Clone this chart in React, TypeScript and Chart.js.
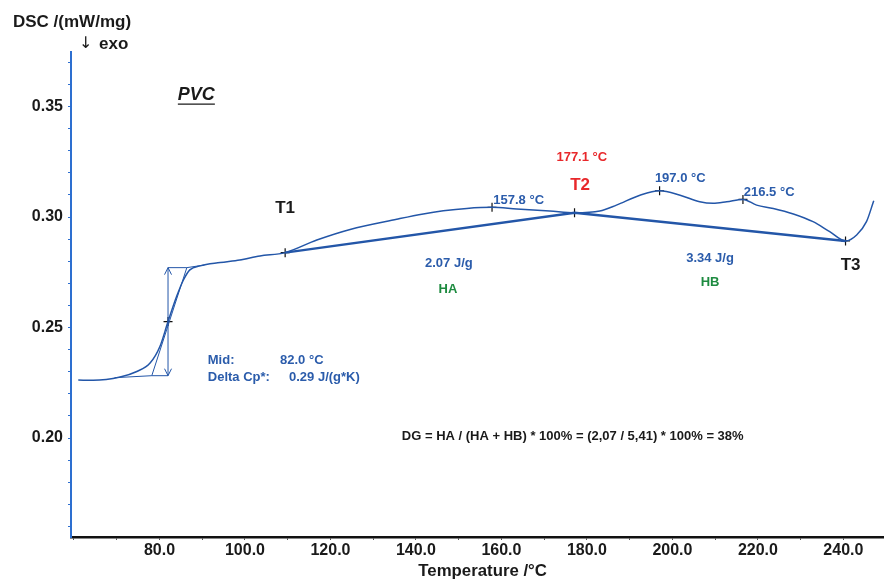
import React, { useEffect, useRef } from "react";
import { Chart, registerables } from "chart.js";

Chart.register(...registerables);

// Main DSC curve (temperature °C, DSC mW/mg)
const curveT = [61.0, 64.5, 70.8, 74.7, 77.8, 80.1, 82.0, 84.0, 85.6, 87.1, 89.5, 94.2, 98.8, 103.5, 109.4, 116.8, 124.6, 135.5, 141.7, 146.4, 151.9, 157.8, 163.6, 171.3, 177.1, 183.0, 186.9, 192.4, 197.0, 201.8, 206.4, 209.5, 212.7, 216.5, 219.7, 223.6, 228.3, 232.9, 236.8, 240.5, 243.1, 245.4, 247.1];
const curveDSC = [0.2262, 0.2261, 0.2276, 0.2301, 0.2339, 0.2414, 0.2527, 0.2640, 0.2715, 0.2761, 0.2779, 0.2794, 0.2806, 0.2824, 0.2839, 0.2896, 0.2944, 0.2990, 0.3014, 0.3028, 0.3039, 0.3044, 0.3036, 0.3027, 0.3019, 0.3027, 0.3054, 0.3099, 0.3119, 0.3099, 0.3069, 0.3062, 0.3069, 0.3080, 0.3054, 0.3039, 0.3014, 0.2979, 0.2934, 0.2892, 0.2919, 0.2979, 0.3074];

// Integration baseline T1 - T2 - T3
const baseT = [109.4, 177.1, 240.5];
const baseDSC = [0.2839, 0.3019, 0.2892];

// Glass transition construction
const tangentT = [78.2, 86.4];
const tangentDSC = [0.2282, 0.2771];
const topStepT = [82.0, 86.4, 90.5];
const topStepDSC = [0.2771, 0.2771, 0.2783];
const lowStepT = [69.5, 78.2, 82.0];
const lowStepDSC = [0.2273, 0.2282, 0.2282];
const arrowT = [82.0, 82.0];
const arrowDSC = [0.2282, 0.2771];

// Marked points (+)
const markT = [82.0, 109.4, 157.8, 177.1, 197.0, 216.5, 240.5];
const markDSC = [0.2527, 0.2839, 0.3044, 0.3019, 0.3119, 0.3080, 0.2892];

// Axis ticks
const xTicks = [60, 70, 80, 90, 100, 110, 120, 130, 140, 150, 160, 170, 180, 190, 200, 210, 220, 230, 240];
const xLabelTicks = [80, 100, 120, 140, 160, 180, 200, 220, 240];
const yTicks = [0.16, 0.17, 0.18, 0.19, 0.2, 0.21, 0.22, 0.23, 0.24, 0.25, 0.26, 0.27, 0.28, 0.29, 0.3, 0.31, 0.32, 0.33, 0.34, 0.35, 0.36, 0.37];
const yLabelTicks = [0.2, 0.25, 0.3, 0.35];

const BLUE = "#2356a8";
const TXT_BLUE = "#2b5cab";
const RED = "#e8282b";
const GREEN = "#1e8b40";
const BLACK = "#1a1a1a";

// Annotations anchored in data coordinates
const labelTexts = ["PVC", "T1", "157.8 °C", "177.1 °C", "T2", "197.0 °C", "216.5 °C", "T3", "2.07 J/g", "HA", "3.34 J/g", "HB", "Mid:", "82.0 °C", "Delta Cp*:", "0.29 J/(g*K)", "DG = HA / (HA + HB) * 100% = (2,07 / 5,41) * 100% = 38%"];
const labelT = [84.3, 109.4, 158.1, 178.8, 178.4, 195.9, 216.7, 241.7, 147.7, 147.5, 208.8, 208.8, 91.3, 108.2, 91.3, 110.3, 136.7];
const labelDSC = [0.3552, 0.3041, 0.3077, 0.3271, 0.3145, 0.3176, 0.3113, 0.2780, 0.2792, 0.2674, 0.2814, 0.2706, 0.2353, 0.2353, 0.2276, 0.2276, 0.2005];
const labelColor = [BLACK, BLACK, TXT_BLUE, RED, RED, TXT_BLUE, TXT_BLUE, BLACK, TXT_BLUE, GREEN, TXT_BLUE, GREEN, TXT_BLUE, TXT_BLUE, TXT_BLUE, TXT_BLUE, BLACK];
const labelSize = [18, 17, 13, 13, 17, 13, 13, 17, 13, 13, 13, 13, 13, 13, 13, 13, 13];
const labelAlign = ["left", "center", "left", "center", "center", "left", "left", "center", "center", "center", "center", "center", "left", "left", "left", "left", "left"];

const X_TITLE = "Temperature /°C";
const FONT = '"Liberation Sans", Arial, Helvetica, sans-serif';

function pts(xs: number[], ys: number[]) {
  return xs.map((x, i) => ({ x, y: ys[i] }));
}

const annotPlugin = {
  id: "annot",
  afterDatasetsDraw(chart: any) {
    const { ctx, scales } = chart;
    const x = scales.x;
    const y = scales.y;
    ctx.save();
    // arrow heads on the Delta Cp step
    const meta = chart.getDatasetMeta(5);
    if (meta && meta.data.length === 2) {
      const a = meta.data[0];
      const b = meta.data[1];
      const bottom = Math.max(a.y, b.y);
      const top = Math.min(a.y, b.y);
      ctx.strokeStyle = BLUE;
      ctx.lineWidth = 1;
      ctx.beginPath();
      ctx.moveTo(a.x - 3.5, top + 7);
      ctx.lineTo(a.x, top);
      ctx.lineTo(a.x + 3.5, top + 7);
      ctx.moveTo(a.x - 3.5, bottom - 7);
      ctx.lineTo(a.x, bottom);
      ctx.lineTo(a.x + 3.5, bottom - 7);
      ctx.stroke();
    }
    ctx.textBaseline = "middle";
    labelTexts.forEach((t, i) => {
      const px = x.getPixelForValue(labelT[i]);
      const py = y.getPixelForValue(labelDSC[i]);
      const italic = i === 0 ? "italic " : "";
      ctx.font = `${italic}bold ${labelSize[i]}px ${FONT}`;
      ctx.fillStyle = labelColor[i];
      ctx.textAlign = labelAlign[i] as CanvasTextAlign;
      ctx.fillText(t, px, py);
      if (i === 0) {
        const w = ctx.measureText(t).width;
        ctx.strokeStyle = labelColor[i];
        ctx.lineWidth = 1.3;
        ctx.beginPath();
        ctx.moveTo(px, py + 9);
        ctx.lineTo(px + w, py + 9);
        ctx.stroke();
      }
    });
    // axis captions
    ctx.fillStyle = BLACK;
    ctx.textAlign = "center";
    ctx.font = `bold 16.8px ${FONT}`;
    ctx.fillText(X_TITLE, x.getPixelForValue(155.6), 571);
    ctx.textAlign = "left";
    ctx.font = `bold 17px ${FONT}`;
    ctx.fillText("DSC /(mW/mg)", 13, 22);
    ctx.fillText("exo", 99, 44);
    ctx.font = `16px "DejaVu Sans", sans-serif`;
    ctx.fillText("↓", 79, 44);
    ctx.restore();
  },
};

export default function App() {
  const ref = useRef<HTMLCanvasElement | null>(null);
  useEffect(() => {
    if (!ref.current) return;
    const line = (data: any, color: string, width: number, extra: any = {}) => ({
      data,
      showLine: true,
      borderColor: color,
      borderWidth: width,
      pointRadius: 0,
      pointHoverRadius: 0,
      fill: false,
      ...extra,
    });
    const chart = new Chart(ref.current, {
      type: "scatter",
      data: {
        datasets: [
          line(pts(curveT, curveDSC), BLUE, 1.5, { cubicInterpolationMode: "monotone" }),
          line(pts(baseT, baseDSC), BLUE, 2.5),
          line(pts(tangentT, tangentDSC), BLUE, 1),
          line(pts(topStepT, topStepDSC), BLUE, 1),
          line(pts(lowStepT, lowStepDSC), BLUE, 1),
          line(pts(arrowT, arrowDSC), BLUE, 1),
          {
            data: pts(markT, markDSC),
            showLine: false,
            pointStyle: "cross",
            pointRadius: 4.5,
            pointHoverRadius: 4.5,
            borderColor: "#111",
            borderWidth: 1.2,
            backgroundColor: "#111",
          },
        ],
      },
      options: {
        animation: false,
        responsive: false,
        layout: { autoPadding: false, padding: { top: 52, right: 0, left: 0, bottom: 0 } },
        plugins: { legend: { display: false }, tooltip: { enabled: false } },
        scales: {
          x: {
            type: "linear",
            min: 59.3,
            max: 249.5,
            afterBuildTicks: (s: any) => {
              s.ticks = xTicks.map((v) => ({ value: v }));
            },
            afterFit: (s: any) => {
              s.height = 44;
              s.paddingLeft = 0;
              s.paddingRight = 0;
            },
            ticks: {
              autoSkip: false,
              maxRotation: 0,
              padding: 1,
              color: BLACK,
              font: { size: 16, weight: "bold", family: FONT },
              callback: (v: any) => (xLabelTicks.includes(Number(v)) ? Number(v).toFixed(1) : ""),
            },
            grid: { drawOnChartArea: false, tickLength: 3, color: "#555" },
            border: { color: "#111", width: 2.5 },
            title: { display: false },
          },
          y: {
            type: "linear",
            min: 0.1552,
            max: 0.3747,
            afterBuildTicks: (s: any) => {
              s.ticks = yTicks.map((v) => ({ value: v }));
            },
            afterFit: (s: any) => {
              s.width = 71;
              s.paddingTop = 0;
              s.paddingBottom = 0;
            },
            ticks: {
              autoSkip: false,
              padding: 5,
              color: BLACK,
              font: { size: 16, weight: "bold", family: FONT },
              callback: (v: any) =>
                yLabelTicks.some((t) => Math.abs(t - Number(v)) < 1e-6) ? Number(v).toFixed(2) : "",
            },
            grid: { drawOnChartArea: false, tickLength: 3, color: "#2d6fd0" },
            border: { color: "#2d6fd0", width: 2 },
          },
        },
      },
      plugins: [annotPlugin],
    } as any);
    return () => chart.destroy();
  }, []);
  return (
    <div style={{ position: "fixed", left: 0, top: 0, width: 884, height: 581, background: "#fff" }}>
      <canvas ref={ref} width={884} height={581} />
    </div>
  );
}
